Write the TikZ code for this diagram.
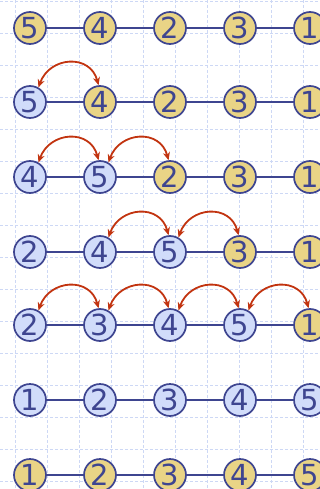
\documentclass[tikz,border=0pt]{standalone}
\usepackage{fontspec}
\setmainfont{DejaVu Sans}
\usepackage{tikz}
\usetikzlibrary{arrows.meta}

\definecolor{keyyellow}{HTML}{E9D486}
\definecolor{keylight}{HTML}{D1DCFA}
\definecolor{keyline}{HTML}{3E4590}
\definecolor{swapred}{HTML}{C23410}
\definecolor{gridblue}{HTML}{CDD8F5}

\tikzset{
  key/.style={circle, draw=keyline, line width=1.7pt, minimum size=32pt, inner sep=0pt,
    text=keyline, font=\fontsize{29}{29}\selectfont},
  link/.style={draw=keyline, line width=1.7pt},
  swaparrow/.style={draw=swapred, line width=1.8pt,
    {Stealth[length=8pt,width=7pt]}-{Stealth[length=8pt,width=7pt]}},
  gridline/.style={draw=gridblue, line width=0.9pt, dash pattern=on 3pt off 2pt},
}

\begin{document}
\begin{tikzpicture}[x=1pt, y=-1pt]
\useasboundingbox (0,0) rectangle (320,489);
\clip (0,0) rectangle (320,489);

% Grid
\foreach \gx in {15,47,...,303}
  \draw[gridline] (\gx,0) -- (\gx,489);
\foreach \gy in {1,33,...,481}
  \draw[gridline] (0,\gy) -- (320,\gy);

% Row 1
\foreach \v/\c [count=\i] in {5/keyyellow,4/keyyellow,2/keyyellow,3/keyyellow,1/keyyellow}
  \node[key, fill=\c] (a\i) at ({30+70*(\i-1)}, 28) {\v};
\draw[link] (a1) -- (a2) -- (a3) -- (a4) -- (a5);

% Row 2
\foreach \v/\c [count=\i] in {5/keylight,4/keyyellow,2/keyyellow,3/keyyellow,1/keyyellow}
  \node[key, fill=\c] (b\i) at ({30+70*(\i-1)}, 102) {\v};
\draw[link] (b1) -- (b2) -- (b3) -- (b4) -- (b5);
\draw[swaparrow] (b1.60) to[out=70, in=105, looseness=1.4] (b2.95);

% Row 3
\foreach \v/\c [count=\i] in {4/keylight,5/keylight,2/keyyellow,3/keyyellow,1/keyyellow}
  \node[key, fill=\c] (c\i) at ({30+70*(\i-1)}, 177) {\v};
\draw[link] (c1) -- (c2) -- (c3) -- (c4) -- (c5);
\draw[swaparrow] (c1.60) to[out=70, in=105, looseness=1.4] (c2.95);
\draw[swaparrow] (c2.60) to[out=70, in=105, looseness=1.4] (c3.95);

% Row 4
\foreach \v/\c [count=\i] in {2/keylight,4/keylight,5/keylight,3/keyyellow,1/keyyellow}
  \node[key, fill=\c] (d\i) at ({30+70*(\i-1)}, 252) {\v};
\draw[link] (d1) -- (d2) -- (d3) -- (d4) -- (d5);
\draw[swaparrow] (d2.60) to[out=70, in=105, looseness=1.4] (d3.95);
\draw[swaparrow] (d3.60) to[out=70, in=105, looseness=1.4] (d4.95);

% Row 5
\foreach \v/\c [count=\i] in {2/keylight,3/keylight,4/keylight,5/keylight,1/keyyellow}
  \node[key, fill=\c] (e\i) at ({30+70*(\i-1)}, 325) {\v};
\draw[link] (e1) -- (e2) -- (e3) -- (e4) -- (e5);
\draw[swaparrow] (e1.60) to[out=70, in=105, looseness=1.4] (e2.95);
\draw[swaparrow] (e2.60) to[out=70, in=105, looseness=1.4] (e3.95);
\draw[swaparrow] (e3.60) to[out=70, in=105, looseness=1.4] (e4.95);
\draw[swaparrow] (e4.60) to[out=70, in=105, looseness=1.4] (e5.95);

% Row 6
\foreach \v/\c [count=\i] in {1/keylight,2/keylight,3/keylight,4/keylight,5/keylight}
  \node[key, fill=\c] (f\i) at ({30+70*(\i-1)}, 400) {\v};
\draw[link] (f1) -- (f2) -- (f3) -- (f4) -- (f5);

% Row 7
\foreach \v/\c [count=\i] in {1/keyyellow,2/keyyellow,3/keyyellow,4/keyyellow,5/keyyellow}
  \node[key, fill=\c] (g\i) at ({30+70*(\i-1)}, 475) {\v};
\draw[link] (g1) -- (g2) -- (g3) -- (g4) -- (g5);

\end{tikzpicture}
\end{document}
